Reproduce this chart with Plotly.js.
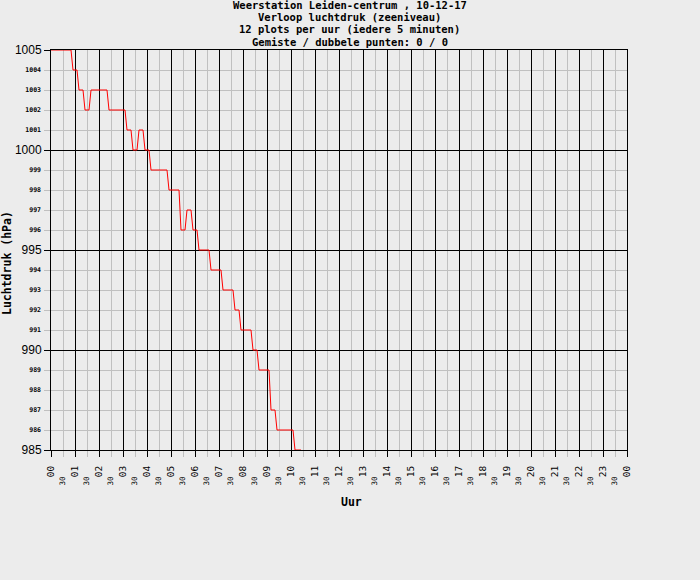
<!DOCTYPE html>
<html>
<head>
<meta charset="utf-8">
<script src="https://cdn.plot.ly/plotly-3.0.1.min.js"></script>
<style>html,body{margin:0;padding:0;background:#ececec;}</style>
</head>
<body>
<div id="chart" style="width:700px;height:580px;"></div>
<script>
// ---- data ----
const titleLines = [
  "Weerstation Leiden-centrum , 10-12-17",
  "Verloop luchtdruk (zeeniveau)",
  "12 plots per uur (iedere 5 minuten)",
  "Gemiste / dubbele punten: 0 / 0"
];
const xTitle = "Uur";
const yTitle = "Luchtdruk (hPa)";

// minutes since 00:00 (one plot every 5 minutes)
const minutes = [
  0,5,10,15,20,25,30,35,40,45,50,55,
  60,65,70,75,80,85,90,95,100,105,110,115,
  120,125,130,135,140,145,150,155,160,165,170,175,
  180,185,190,195,200,205,210,215,220,225,230,235,
  240,245,250,255,260,265,270,275,280,285,290,295,
  300,305,310,315,320,325,330,335,340,345,350,355,
  360,365,370,375,380,385,390,395,400,405,410,415,
  420,425,430,435,440,445,450,455,460,465,470,475,
  480,485,490,495,500,505,510,515,520,525,530,535,
  540,545,550,555,560,565,570,575,580,585,590,595,
  600,605,610,615,620,625
];
// pressure (hPa)
const pressure = [
  1005,1005,1005,1005,1005,1005,1005,1005,1005,1005,1005,1004,
  1004,1004,1003,1003,1003,1002,1002,1002,1003,1003,1003,1003,
  1003,1003,1003,1003,1003,1002,1002,1002,1002,1002,1002,1002,
  1002,1002,1001,1001,1001,1000,1000,1000,1001,1001,1001,1000,
  1000,1000,999,999,999,999,999,999,999,999,999,998,
  998,998,998,998,998,996,996,996,997,997,997,996,
  996,996,995,995,995,995,995,995,994,994,994,994,
  994,994,993,993,993,993,993,993,992,992,992,991,
  991,991,991,991,991,990,990,990,989,989,989,989,
  989,989,987,987,987,986,986,986,986,986,986,986,
  986,986,985,985,985,985
];

const hourVals = [0,1,2,3,4,5,6,7,8,9,10,11,12,13,14,15,16,17,18,19,20,21,22,23,24];
const hourLabels = ["00","01","02","03","04","05","06","07","08","09","10","11","12",
                    "13","14","15","16","17","18","19","20","21","22","23","00"];
const halfVals = [0.5,1.5,2.5,3.5,4.5,5.5,6.5,7.5,8.5,9.5,10.5,11.5,12.5,13.5,14.5,15.5,
                  16.5,17.5,18.5,19.5,20.5,21.5,22.5,23.5];
const halfLabels = ["30","30","30","30","30","30","30","30","30","30","30","30",
                    "30","30","30","30","30","30","30","30","30","30","30","30"];
const yMajorVals = [985,990,995,1000,1005];
const yMajorLabels = ["985","990","995","1000","1005"];
const yMinorVals = [986,987,988,989,991,992,993,994,996,997,998,999,1001,1002,1003,1004];
const yMinorLabels = ["986","987","988","989","991","992","993","994","996","997","998","999","1001","1002","1003","1004"];

// ---- chart ----
const mono = "DejaVu Sans Mono";
const gray = "#c0c0c0";
const trace = {
  x: minutes.map(m => m / 60),
  y: pressure,
  type: "scatter",
  mode: "lines",
  line: {color: "#ff0000", width: 1, shape: "linear"},
  hoverinfo: "skip"
};
// carrier for the overlaid label axes (no visible marks)
const labelAxesTrace = {
  x: [null], y: [null], xaxis: "x2", yaxis: "y2",
  type: "scatter", mode: "lines", hoverinfo: "skip", showlegend: false
};

const titleYpx = [4.6, 16.9, 29.2, 41.5];
const annotations = titleLines.map((t, i) => ({
  text: t, xref: "paper", yref: "paper", x: 0.519, y: (450 - titleYpx[i]) / 400,
  xanchor: "center", yanchor: "middle", showarrow: false,
  font: {family: mono, size: 10.5, color: "#000", weight: "bold"}
}));
annotations.push({
  text: xTitle, xref: "paper", yref: "paper", x: 0.5, y: -0.13,
  xanchor: "left", yanchor: "middle", showarrow: false,
  font: {family: mono, size: 11.5, color: "#000", weight: "bold"}
});
annotations.push({
  text: yTitle, xref: "paper", yref: "paper", x: -0.0764, y: 0.4675,
  xanchor: "center", yanchor: "middle", textangle: -90, showarrow: false,
  font: {family: mono, size: 11.5, color: "#000", weight: "bold"}
});

const layout = {
  width: 700, height: 580,
  paper_bgcolor: "#ececec", plot_bgcolor: "#ececec",
  margin: {l: 51, r: 73, t: 50, b: 130},
  showlegend: false,
  xaxis: {
    range: [0, 24], tickmode: "array", tickvals: hourVals, ticktext: hourLabels,
    tickangle: -90, tickfont: {family: mono, size: 9.5, color: "#000"},
    ticks: "outside", ticklen: 6, tickcolor: "#000", tickwidth: 1, ticklabelstandoff: 5,
    showgrid: true, gridcolor: "#000", gridwidth: 1,
    minor: {tickmode: "array", tickvals: halfVals, showgrid: true, gridcolor: gray,
            gridwidth: 1, ticks: "outside", ticklen: 6, tickcolor: gray, tickwidth: 1},
    showline: true, linecolor: "#000", linewidth: 1, mirror: true,
    zeroline: false, fixedrange: true, layer: "below traces"
  },
  xaxis2: {
    overlaying: "x", anchor: "y", side: "bottom", range: [0, 24],
    tickmode: "array", tickvals: halfVals, ticktext: halfLabels,
    tickangle: -90, tickfont: {family: mono, size: 7.5, color: "#000"},
    ticks: "", ticklabelstandoff: 24,
    showgrid: false, zeroline: false, showline: false, fixedrange: true
  },
  yaxis: {
    range: [985, 1005], tickmode: "array", tickvals: yMajorVals, ticktext: yMajorLabels,
    tickfont: {family: "Liberation Sans", size: 12, color: "#000"},
    ticks: "outside", ticklen: 6, tickcolor: "#000", tickwidth: 1,
    showgrid: true, gridcolor: "#000", gridwidth: 1,
    minor: {tickmode: "array", tickvals: yMinorVals, showgrid: true, gridcolor: gray,
            gridwidth: 1, ticks: "outside", ticklen: 6, tickcolor: gray, tickwidth: 1},
    showline: true, linecolor: "#000", linewidth: 1, mirror: true,
    zeroline: false, fixedrange: true, layer: "below traces"
  },
  yaxis2: {
    overlaying: "y", anchor: "x", side: "left", range: [985, 1005],
    tickmode: "array", tickvals: yMinorVals, ticktext: yMinorLabels,
    tickfont: {family: mono, size: 6.5, color: "#000", weight: "bold"},
    ticks: "", ticklabelstandoff: 9,
    showgrid: false, zeroline: false, showline: false, fixedrange: true
  },
  annotations: annotations
};

Plotly.newPlot("chart", [trace, labelAxesTrace], layout, {staticPlot: true, displayModeBar: false});
</script>
</body>
</html>
